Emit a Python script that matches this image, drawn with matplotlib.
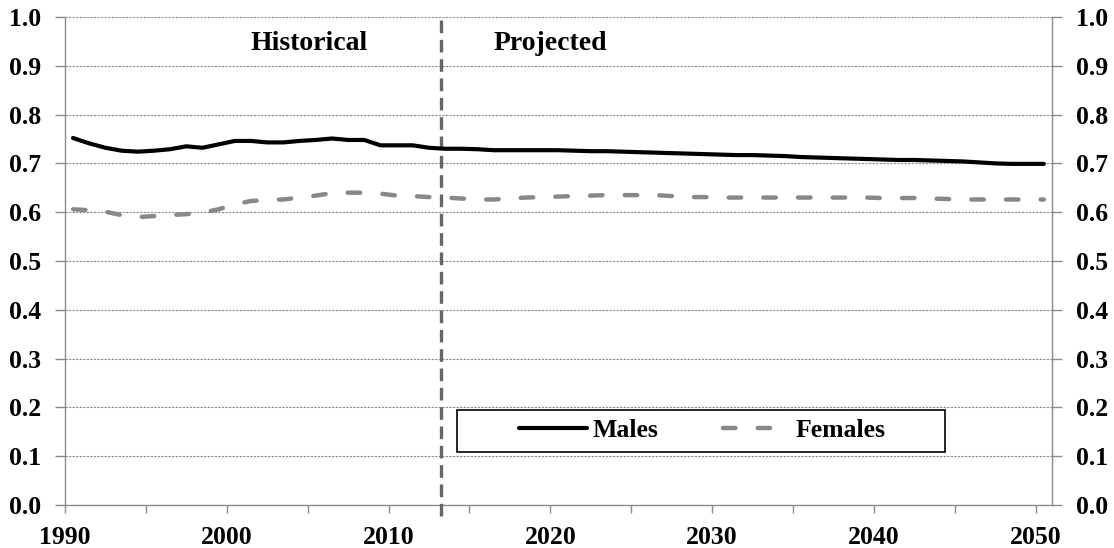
import matplotlib
matplotlib.use("Agg")
import matplotlib.pyplot as plt
from matplotlib.patches import Rectangle
import numpy as np

years = list(range(1990, 2051))

males = [
    0.752, 0.741, 0.732, 0.726, 0.724, 0.726, 0.729, 0.735, 0.732, 0.739,
    0.746, 0.746, 0.743, 0.743, 0.746, 0.748, 0.751, 0.748, 0.748, 0.737,
    0.737, 0.737, 0.732, 0.730, 0.730, 0.729, 0.727, 0.727, 0.727, 0.727,
    0.727, 0.726, 0.725, 0.725, 0.724, 0.723, 0.722, 0.721, 0.720, 0.719,
    0.718, 0.717, 0.717, 0.716, 0.715, 0.713, 0.712, 0.711, 0.710, 0.709,
    0.708, 0.707, 0.707, 0.706, 0.705, 0.704, 0.702, 0.700, 0.699, 0.699,
    0.699,
]

females = [
    0.606, 0.604, 0.601, 0.594, 0.590, 0.592, 0.594, 0.596, 0.599, 0.606,
    0.616, 0.623, 0.625, 0.626, 0.630, 0.634, 0.639, 0.640, 0.640, 0.638,
    0.634, 0.633, 0.631, 0.630, 0.628, 0.626, 0.626, 0.628, 0.630, 0.631,
    0.632, 0.633, 0.634, 0.635, 0.635, 0.635, 0.635, 0.633, 0.631, 0.631,
    0.630, 0.630, 0.630, 0.630, 0.630, 0.630, 0.630, 0.630, 0.630, 0.630,
    0.629, 0.629, 0.629, 0.628, 0.627, 0.626, 0.626, 0.626, 0.626, 0.626,
    0.626,
]

series_labels = ["Males", "Females"]
period_labels = ["Historical", "Projected"]
split_year = 2013.25
x_ticks_major = list(range(1990, 2051, 10))
x_ticks_minor = list(range(1995, 2051, 10))
y_ticks = [round(v * 0.1, 1) for v in range(11)]

plt.rcParams["font.family"] = ["Liberation Serif", "DejaVu Serif"]
plt.rcParams["font.weight"] = "bold"

fig = plt.figure(figsize=(11.14, 5.48), dpi=100)
ax = fig.add_axes([0.0583, 0.0785, 0.886, 0.8905])

# each year sits in the middle of its category slot
xpos = np.array(years) + 0.5

ax.plot(xpos, males, color="black", lw=3.0, solid_capstyle="round",
        label=series_labels[0], zorder=4)
ax.plot(xpos, females, color="#888888", lw=3.2, dashes=(2.8, 5.0),
        dash_capstyle="round", label=series_labels[1], zorder=4)

ax.set_xlim(1990, 2051)
ax.set_ylim(0, 1.0)

# horizontal gridlines
for v in y_ticks[1:]:
    ax.axhline(v, color="#8a8a8a", lw=0.8, ls=(0, (2, 1.2)), zorder=1)

# historical / projected divider
ax.plot([split_year, split_year], [-0.022, 1.0], color="#666666", lw=2.4,
        dashes=(3.8, 2.0), clip_on=False, zorder=3)

ax.text(2005.1, 0.945, period_labels[0], ha="center", va="center",
        fontsize=20, fontweight="bold")
ax.text(2016.5, 0.945, period_labels[1], ha="left", va="center",
        fontsize=20, fontweight="bold")

ax.set_xticks(x_ticks_major)
ax.set_xticks(x_ticks_minor, minor=True)
ax.set_xticklabels([str(t) for t in x_ticks_major])
ax.set_yticks(y_ticks)
ax.set_yticklabels([f"{v:.1f}" for v in y_ticks])

ax.tick_params(axis="x", which="both", direction="out", length=6, width=1,
               color="#8a8a8a", pad=9, labelsize=18.5)
ax.tick_params(axis="y", which="both", direction="out", length=7, width=1,
               color="#8a8a8a", pad=10, labelsize=18.5,
               left=True, right=True, labelleft=True, labelright=True)

for side in ["left", "right", "bottom"]:
    ax.spines[side].set_color("#8a8a8a")
    ax.spines[side].set_linewidth(1.0)
ax.spines["top"].set_visible(False)

# legend frame and entries
ax.add_patch(Rectangle((0.397, 0.109), 0.495, 0.086, transform=ax.transAxes,
                       facecolor="white", edgecolor="black", lw=1.2, zorder=5))
leg = ax.legend(loc="center", bbox_to_anchor=(0.646, 0.152), ncol=2,
                frameon=False, fontsize=18.5, handlelength=2.65,
                handletextpad=0.2, columnspacing=2.5, borderaxespad=0)
leg.set_zorder(6)

fig.savefig("out.png", dpi=100)
